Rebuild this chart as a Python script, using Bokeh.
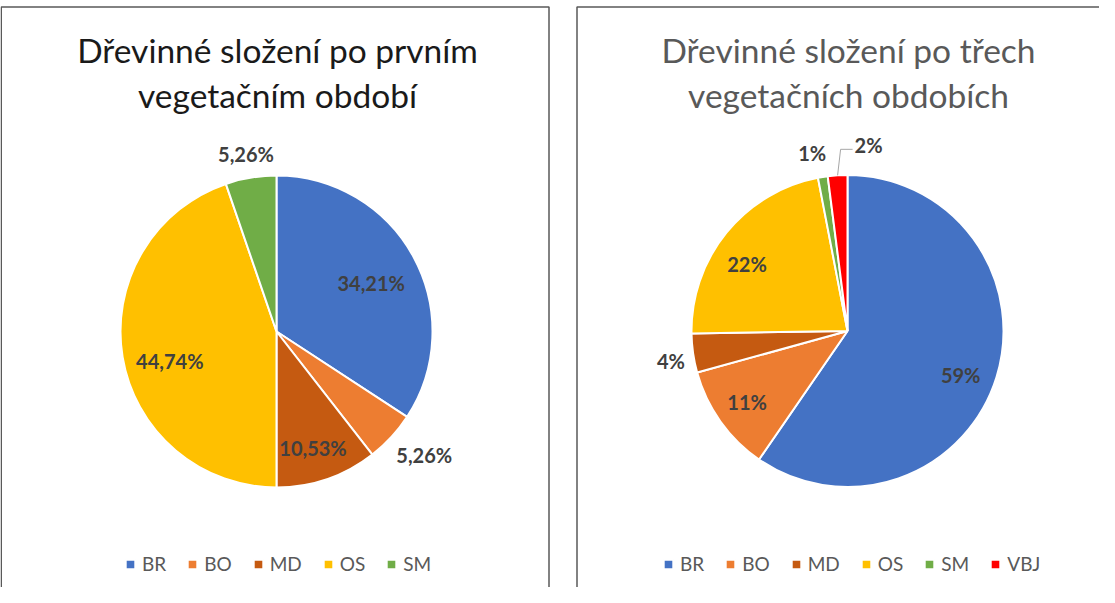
import math
from bokeh.plotting import figure
from bokeh.models import Range1d, Legend, LegendItem, ColumnDataSource
from bokeh.core.properties import value
from bokeh.embed import file_html
from bokeh.resources import INLINE

# ---------------- data ----------------
species_1 = ["BR", "BO", "MD", "OS", "SM"]
share_1 = [34.21, 5.26, 10.53, 44.74, 5.26]
labels_1 = ["34,21%", "5,26%", "10,53%", "44,74%", "5,26%"]
title_1 = ["Dřevinné složení po prvním", "vegetačním období"]

species_2 = ["BR", "BO", "MD", "OS", "SM", "VBJ"]
share_2 = [59, 11, 4, 22, 1, 2]
labels_2 = ["59%", "11%", "4%", "22%", "1%", "2%"]
title_2 = ["Dřevinné složení po třech", "vegetačních obdobích"]

# ---------------- style / layout ----------------
COLORS = {"BR": "#4472C4", "BO": "#ED7D31", "MD": "#C55A11",
          "OS": "#FFC000", "SM": "#70AD47", "VBJ": "#FF0000"}
FONT = "Lato"
W, H = 1099, 587
X0, YB = 8, 595          # screen offsets of the figure
R = 156

def sy(y):               # screen y -> data y
    return YB - y

# label radial positions (fraction of R) and fine nudges (dx, dy screen px)
lab_r_1 = [0.69, 1.20, 0.78, 0.70, 1.15]
nudge_1 = [(0, 3), (10, -3), (-3, 1), (1, 12), (-1, -1)]
lab_r_2 = [0.78, 0.79, 1.15, 0.78, 1.15, None]
nudge_2 = [(-3, 8), (0, 0), (1, 4), (-6, 10), (-7, -1), (0, 0)]

p = figure(width=W, height=H, x_range=Range1d(X0, X0 + W), y_range=Range1d(0, H),
           x_axis_location=None, y_axis_location=None, toolbar_location=None,
           output_backend="svg", min_border=0, outline_line_color=None,
           background_fill_color="white", border_fill_color="white")
p.grid.visible = False

# panel borders
p.multi_line(xs=[[8.75, 8.75, 556.5, 556.5], [584.5, 584.5, 1107]],
             ys=[[sy(603), sy(14.5), sy(14.5), sy(603)], [sy(603), sy(14.5), sy(14.5)]],
             line_color="#595959", line_width=1.5)


def draw_pie(cx, cy, species, shares, labels, lab_r, nudges, title, title_color,
             legend_x, callout_idx=None):
    total = float(sum(shares))
    cum = 0.0
    starts, ends, mids = [], [], []
    for v in shares:
        f0 = cum / total
        cum += v
        f1 = cum / total
        starts.append(math.pi / 2 - 2 * math.pi * f1)
        ends.append(math.pi / 2 - 2 * math.pi * f0)
        mids.append(2 * math.pi * (f0 + f1) / 2)
    src = ColumnDataSource(dict(start=starts, end=ends,
                                color=[COLORS[s] for s in species], name=species))
    r = p.wedge(x=cx, y=sy(cy), radius=R, start_angle="start", end_angle="end",
                fill_color="color", line_color="white", line_width=2, source=src)

    lx, ly, lt, la = [], [], [], []
    for i, (m, t) in enumerate(zip(mids, labels)):
        if i == callout_idx:
            ex = cx + R * math.sin(m)
            ey = cy - R * math.cos(m)
            elx, ely = ex + 3, ey - 26
            p.line(x=[ex, elx, elx + 12], y=[sy(ey), sy(ely), sy(ely)],
                   line_color="#a6a6a6", line_width=1)
            lx.append(elx + 14)
            ly.append(sy(ely - 4))
            lt.append(t)
            la.append("left")
            continue
        rr = lab_r[i] * R
        dx, dy = nudges[i]
        lx.append(cx + rr * math.sin(m) + dx)
        ly.append(sy(cy - rr * math.cos(m) + dy))
        lt.append(t)
        la.append("center")
    p.text(x=lx, y=ly, text=lt, text_align=la, text_baseline="middle",
           text_font=value(FONT), text_font_style="bold", text_font_size="20px",
           text_color="#404040")

    # title
    p.text(x=[cx + 1, cx + 1], y=[sy(57), sy(102)], text=title, text_align="center",
           text_baseline="alphabetic", text_font=value(FONT), text_font_size="33.5px",
           text_color=title_color)

    legend = Legend(items=[LegendItem(label=s, renderers=[r], index=i)
                           for i, s in enumerate(species)],
                    orientation="horizontal", location=(legend_x - X0, 12),
                    border_line_color=None, background_fill_alpha=0,
                    padding=0, margin=0, spacing=20, glyph_width=12, glyph_height=12,
                    label_standoff=6, label_text_font=FONT,
                    label_text_font_size="19px", label_text_color="#595959")
    p.add_layout(legend)


draw_pie(284, 339, species_1, share_1, labels_1, lab_r_1, nudge_1, title_1,
         "#1a1a1a", 132)
draw_pie(855, 338.5, species_2, share_2, labels_2, lab_r_2, nudge_2, title_2,
         "#595959", 670, callout_idx=5)

open("out.html", "w").write(file_html(p, INLINE))
